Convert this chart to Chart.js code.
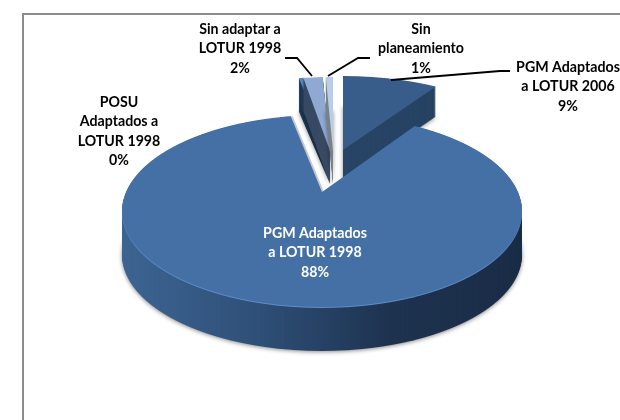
<!DOCTYPE html>
<html>
<head>
<meta charset="utf-8">
<style>
  body { margin: 0; background: #fff; }
  canvas { display: block; }
</style>
<script src="https://cdn.jsdelivr.net/npm/chart.js@4"></script>
</head>
<body>
<canvas id="pie3d" width="620" height="420"></canvas>
<script>
const categories = ['PGM Adaptados a LOTUR 2006', 'PGM Adaptados a LOTUR 1998', 'POSU Adaptados a LOTUR 1998', 'Sin adaptar a LOTUR 1998', 'Sin planeamiento'];
const values = [9.3, 87.65, 0.45, 1.9, 0.7];
const labelLines = [
  ['PGM Adaptados', 'a LOTUR 2006'],
  ['PGM Adaptados', 'a LOTUR 1998'],
  ['POSU', 'Adaptados a', 'LOTUR 1998'],
  ['Sin adaptar a', 'LOTUR 1998'],
  ['Sin', 'planeamiento']
];

// look of the slices
const topColors = ['#385d8a', '#4570a6', '#4f81bd', '#8fa9d2', '#b9cde5'];
const sideColors = [
  ['#2b4a70', '#25405f'],
  ['#3d6593', '#2f5078', '#1e3350', '#1a2c47'],
  ['#1f3b5c', '#1c3553'],
  ['#27405f', '#4a5568'],
  ['#5a6270', '#9aa0a8']
];
const depths = [30, 44, 33, 33, 33];
const drawOrder = [0, 2, 3, 4, 1];

// where each exploded slice has its tip on the page
const tipX = [343, 322, 330, 330, 333];
const tipY = [150, 192, 151, 151, 151];
const tipG = [88.6, 92.2, 88.6, 88.6, 88.6];

// where the labels sit, first line y and center x
const labelX = [568, 315, 119, 240, 421];
const labelY = [67, 233, 102, 29, 29];
const lineGap = 19.6;
const leaders = [
  [[391, 80], [500, 71], [510, 71]],
  [[285, 58], [297, 58], [312, 76]],
  [[370, 58], [358, 58], [328, 76]]
];

// fake perspective of the pie plane, radius is normalised to 1
const view = { f: 196, k: 0.198, top: 50, bottom: 320 };

function drawSliceFace(arc, index, target) {
  const R = arc.outerRadius;
  const g = tipG[index];
  for (let row = view.top; row < view.bottom; row++) {
    const dy = row + 0.5 - tipY[index];
    const v = dy / (g + view.k * dy);
    const w = 1 - view.k * v;
    const sx = view.f / (w * R);
    const sy = g / (w * w * R);
    target.save();
    target.beginPath();
    target.rect(0, row, 620, 1);
    target.clip();
    target.setTransform(sx, 0, 0, sy, tipX[index] - sx * arc.x, row + 0.5 - sy * (arc.y + v * R));
    arc.draw(target);
    target.restore();
  }
}

function tinted(face, fill) {
  const c = document.createElement('canvas');
  c.width = 620;
  c.height = 420;
  const x = c.getContext('2d');
  x.drawImage(face, 0, 0);
  x.globalCompositeOperation = 'source-in';
  x.fillStyle = fill;
  x.fillRect(0, 0, 620, 420);
  return c;
}

const pie3dPlugin = {
  id: 'pie3d',
  beforeDraw(chart) {
    const ctx = chart.ctx;
    ctx.save();
    ctx.strokeStyle = '#8c8c8c';
    ctx.lineWidth = 2;
    ctx.strokeRect(23, 14, 700, 500);
    ctx.restore();
  },
  beforeDatasetsDraw(chart) {
    const ctx = chart.ctx;
    const arcs = chart.getDatasetMeta(0).data;
    drawOrder.forEach(function (i) {
      const face = document.createElement('canvas');
      face.width = 620;
      face.height = 420;
      drawSliceFace(arcs[i], i, face.getContext('2d'));

      const grad = ctx.createLinearGradient(122, 0, 522, 0);
      sideColors[i].forEach(function (color, n) {
        grad.addColorStop(n / (sideColors[i].length - 1), color);
      });
      const side = tinted(face, grad);
      ctx.save();
      ctx.shadowColor = 'rgba(0,0,0,0.45)';
      ctx.shadowBlur = 4;
      ctx.shadowOffsetY = 1;
      ctx.drawImage(side, 0, depths[i]);
      ctx.restore();
      for (let d = depths[i] - 1; d > 0; d--) {
        ctx.drawImage(side, 0, d);
      }
      if (i === 1) {
        // light rim at the front and grey bevel along the cut
        ctx.drawImage(tinted(face, '#5c8dca'), 0, 1);
        ctx.save();
        ctx.beginPath();
        ctx.rect(280, 100, 50, 100);
        ctx.clip();
        ctx.drawImage(tinted(face, '#c4c8ce'), 2, 0);
        ctx.restore();
      }
      ctx.drawImage(face, 0, 0);
    });
    return false;
  },
  afterDraw(chart) {
    const ctx = chart.ctx;
    ctx.save();
    ctx.strokeStyle = '#000';
    ctx.lineWidth = 1.8;
    leaders.forEach(function (line) {
      ctx.beginPath();
      line.forEach(function (p, n) {
        if (n === 0) ctx.moveTo(p[0], p[1]);
        else ctx.lineTo(p[0], p[1]);
      });
      ctx.stroke();
    });
    ctx.font = 'bold 14.2px Lato';
    ctx.textAlign = 'center';
    ctx.textBaseline = 'middle';
    const total = values.reduce(function (a, b) { return a + b; }, 0);
    labelLines.forEach(function (lines, i) {
      const all = lines.concat(Math.round(values[i] / total * 100) + '%');
      ctx.fillStyle = i === 1 ? '#fff' : '#000';
      all.forEach(function (text, n) {
        ctx.fillText(text, labelX[i], labelY[i] + n * lineGap);
      });
    });
    ctx.restore();
  }
};

new Chart(document.getElementById('pie3d'), {
  type: 'pie',
  data: {
    labels: categories,
    datasets: [{
      data: values,
      backgroundColor: topColors,
      borderWidth: 0,
      radius: 200
    }]
  },
  options: {
    responsive: false,
    animation: false,
    plugins: {
      legend: { display: false },
      tooltip: { enabled: false }
    }
  },
  plugins: [pie3dPlugin]
});
</script>
</body>
</html>
